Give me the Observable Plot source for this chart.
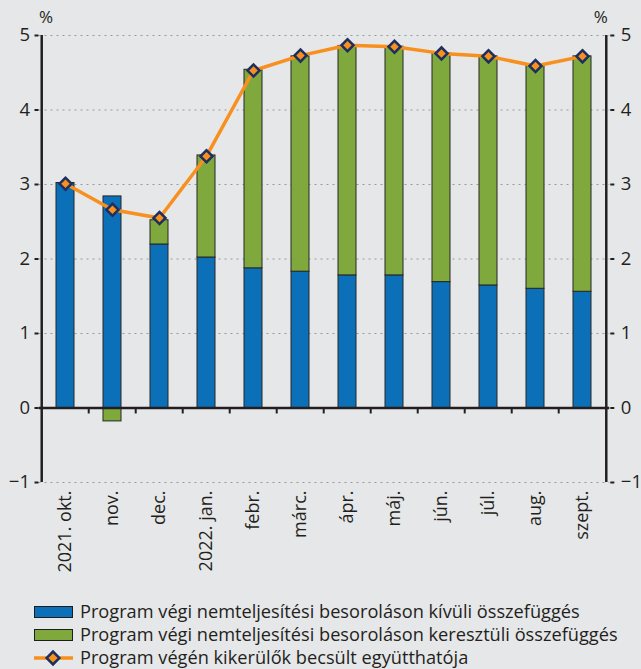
<!DOCTYPE html>
<html><head><meta charset="utf-8">
<script src="https://cdn.jsdelivr.net/npm/d3@7"></script>
<script src="https://cdn.jsdelivr.net/npm/@observablehq/plot@0.6"></script>
<style>
body{margin:0;background:#e6e7e9;font-family:"Open Sans",sans-serif;color:#231f20}
#chart svg{display:block;background:#e6e7e9}
.legend{padding-left:34px;font-size:18.2px;line-height:23px}
.row{display:flex;align-items:center;height:23px;white-space:nowrap}
.sw{width:37px;height:10px;border:1px solid #1e1e1e;margin-right:7px;box-sizing:content-box}
.lsw{margin-right:7px;display:block}
</style></head><body>
<div id="chart"></div>
<div class="legend" id="legend"></div>
<script>
const months = ["2021. okt.", "nov.", "dec.", "2022. jan.", "febr.", "márc.", "ápr.", "máj.", "jún.", "júl.", "aug.", "szept."];
const kivuli = [3.02, 2.84, 2.195, 2.02, 1.875, 1.83, 1.78, 1.78, 1.69, 1.645, 1.60, 1.56];
const keresztuli = [0, -0.18, 0.325, 1.37, 2.665, 2.89, 3.08, 3.07, 3.07, 3.075, 2.99, 3.16];
const egyutthato = [3.01, 2.66, 2.55, 3.38, 4.53, 4.73, 4.87, 4.85, 4.76, 4.72, 4.59, 4.72];
const yTicks = [-1, 0, 1, 2, 3, 4, 5];
const seriesNames = [
  "Program végi nemteljesítési besoroláson kívüli összefüggés",
  "Program végi nemteljesítési besoroláson keresztüli összefüggés",
  "Program végén kikerülők becsült együtthatója"
];
const colors = {blue: "#0b70b8", green: "#7fa83d", orange: "#f7901e", navy: "#1d2f5f"};

const bars = [];
months.forEach((m, i) => {
  bars.push({month: m, series: seriesNames[0], value: kivuli[i]});
  bars.push({month: m, series: seriesNames[1], value: keresztuli[i]});
});
const lineData = months.map((m, i) => ({month: m, value: egyutthato[i]}));

const W = 641, H = 600, mL = 38.5, mR = 31.7;
const step = (W - mL - mR) / months.length;
const font = "Open Sans";
const fmt = d => d < 0 ? "\u2212" + Math.abs(d) : String(d);

const plot = Plot.plot({
  width: W, height: H,
  marginLeft: mL, marginRight: mR, marginTop: 35, marginBottom: H - 482,
  style: {fontFamily: font, background: "#e6e7e9", color: "#231f20"},
  x: {domain: months, paddingInner: 0.607, paddingOuter: 0.3035, label: null},
  y: {domain: [-1, 5], label: null},
  color: {domain: seriesNames.slice(0, 2), range: [colors.blue, colors.green]},
  marks: [
    Plot.ruleY(yTicks.filter(d => d !== 0), {stroke: "#9a9a9a", strokeWidth: 1.2, strokeDasharray: "2,4"}),
    Plot.barY(bars, {x: "month", y: "value", fill: "series", stroke: "#262626", strokeWidth: 1}),
    Plot.ruleY([0], {stroke: "#231f20", strokeWidth: 2.5}),
    Plot.ruleX(months.slice(1), {x: d => d, dx: -step / 2, y1: 0, y2: -0.08, stroke: "#231f20", strokeWidth: 2}),
    Plot.ruleX([months[0]], {x: d => d, dx: -step / 2, y1: -1, y2: 5, stroke: "#231f20", strokeWidth: 2.5}),
    Plot.ruleX([months[months.length - 1]], {x: d => d, dx: step / 2, y1: -1, y2: 5, stroke: "#231f20", strokeWidth: 2.5}),
    Plot.axisY({anchor: "left", ticks: yTicks, tickFormat: fmt, tickSize: 4, tickPadding: 5, fontSize: 18.5, stroke: "#231f20", strokeWidth: 2, label: null}),
    Plot.axisY({anchor: "right", ticks: yTicks, tickFormat: fmt, tickSize: 4, tickPadding: 7, fontSize: 18.5, stroke: "#231f20", strokeWidth: 2, label: null}),
    Plot.axisX({anchor: "bottom", tickSize: 0, tickPadding: 8, tickRotate: -90, fontSize: 18, label: null}),
    Plot.text(["%"], {frameAnchor: "top-left", dx: 7, dy: -13, fontSize: 17, textAnchor: "middle", lineAnchor: "bottom"}),
    Plot.text(["%"], {frameAnchor: "top-right", dx: -9, dy: -13, fontSize: 17, textAnchor: "middle", lineAnchor: "bottom"}),
    Plot.line(lineData, {x: "month", y: "value", stroke: colors.orange, strokeWidth: 3.5}),
    Plot.dot(lineData, {x: "month", y: "value", symbol: "square", rotate: 45, r: 4.8, fill: colors.orange, stroke: colors.navy, strokeWidth: 2.5})
  ]
});
document.getElementById("chart").appendChild(plot);

const leg = document.getElementById("legend");
[colors.blue, colors.green].forEach((c, i) => {
  const row = document.createElement("div");
  row.className = "row";
  row.innerHTML = `<span class="sw" style="background:${c}"></span><span>${seriesNames[i]}</span>`;
  leg.appendChild(row);
});
const row3 = document.createElement("div");
row3.className = "row";
row3.innerHTML = `<svg class="lsw" width="39" height="20"><line x1="0" x2="39" y1="10" y2="10" stroke="${colors.orange}" stroke-width="3.5"/><rect x="14.5" y="5.5" width="9" height="9" transform="rotate(45 19 10)" fill="${colors.orange}" stroke="${colors.navy}" stroke-width="2.5"/></svg><span>${seriesNames[2]}</span>`;
leg.appendChild(row3);
</script>
</body></html>
